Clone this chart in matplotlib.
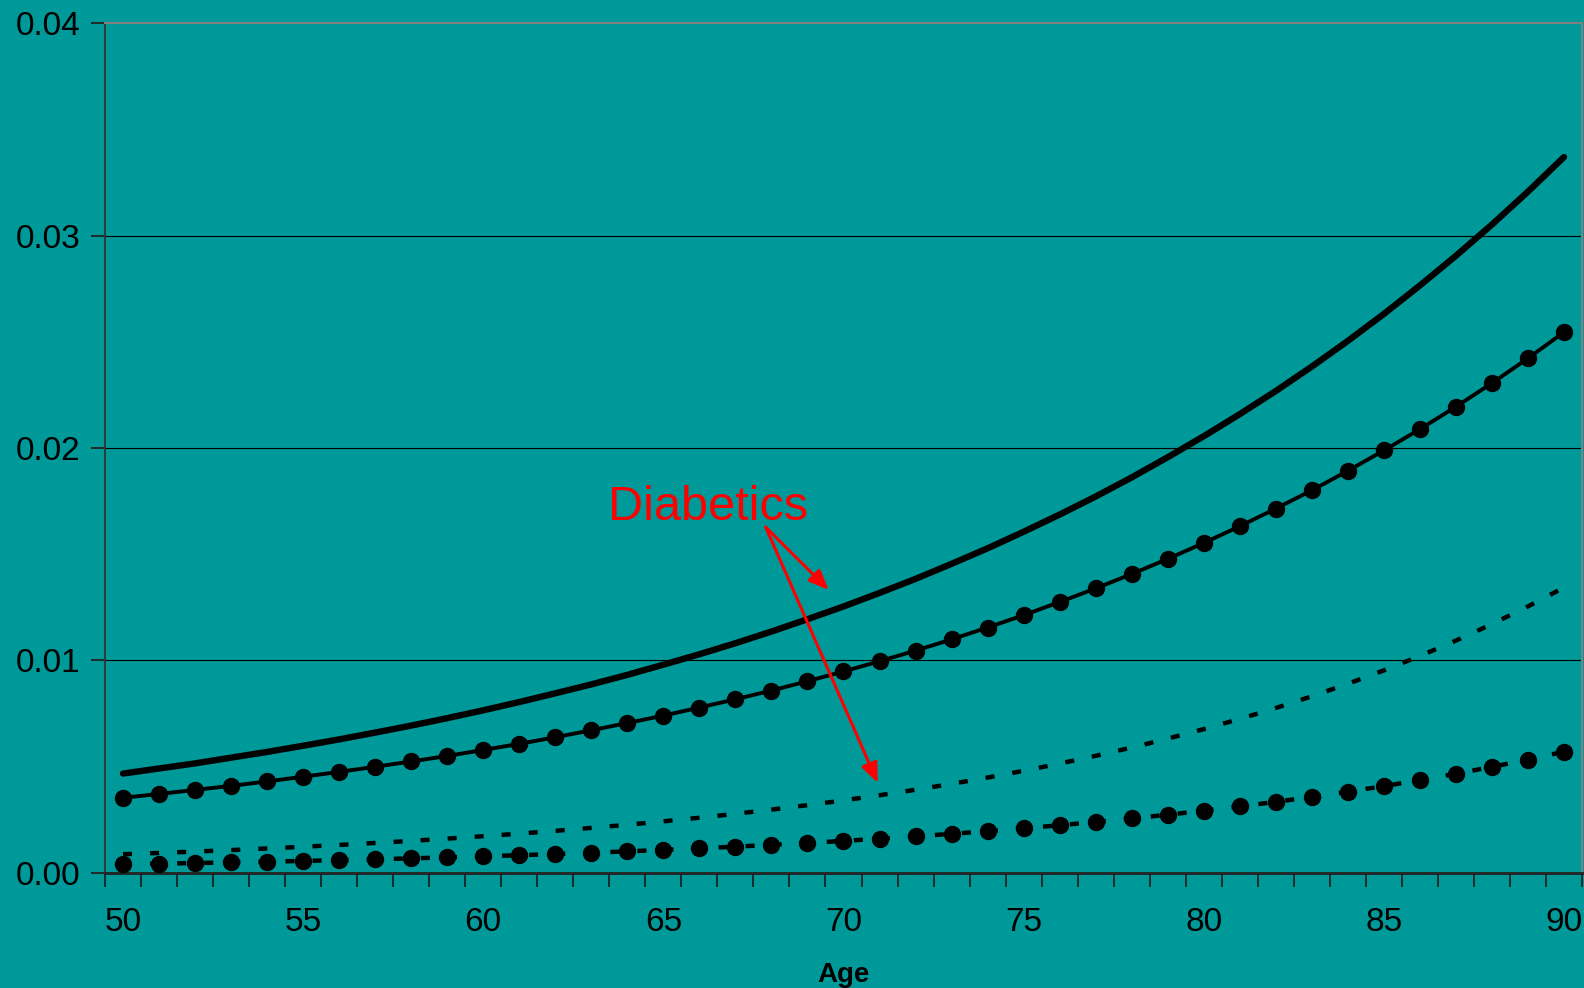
import matplotlib
matplotlib.use("Agg")
import matplotlib.pyplot as plt
from matplotlib.ticker import FormatStrFormatter

# Ages 50..90 (one point per year)
ages = list(range(50, 91))

# Solid thick line, no markers
solid_plain = [0.00466, 0.00490, 0.00514, 0.00541, 0.00568, 0.00597, 0.00627, 0.00659, 0.00692, 0.00727,
               0.00764, 0.00803, 0.00844, 0.00886, 0.00931, 0.00979, 0.01028, 0.01080, 0.01135, 0.01193,
               0.01253, 0.01317, 0.01383, 0.01454, 0.01527, 0.01605, 0.01686, 0.01771, 0.01861, 0.01956,
               0.02055, 0.02159, 0.02268, 0.02383, 0.02504, 0.02631, 0.02765, 0.02905, 0.03052, 0.03207,
               0.03370]

# Solid line with round markers
solid_dots = [0.00352, 0.00370, 0.00389, 0.00408, 0.00429, 0.00451, 0.00474, 0.00498, 0.00523, 0.00549,
              0.00577, 0.00606, 0.00637, 0.00670, 0.00704, 0.00739, 0.00777, 0.00816, 0.00857, 0.00901,
              0.00947, 0.00995, 0.01045, 0.01098, 0.01154, 0.01212, 0.01274, 0.01338, 0.01406, 0.01477,
              0.01552, 0.01631, 0.01714, 0.01800, 0.01892, 0.01988, 0.02088, 0.02194, 0.02305, 0.02422,
              0.02545]

# Dashed line, no markers
dash_plain = [0.000860, 0.000921, 0.000987, 0.001057, 0.001132, 0.001213, 0.001299, 0.001391, 0.001490, 0.001596,
              0.001709, 0.001831, 0.001961, 0.002101, 0.002250, 0.002410, 0.002581, 0.002765, 0.002962, 0.003172,
              0.003398, 0.003639, 0.003898, 0.004175, 0.004472, 0.004790, 0.005131, 0.005496, 0.005886, 0.006305,
              0.006753, 0.007233, 0.007748, 0.008299, 0.008889, 0.009521, 0.010198, 0.010923, 0.011700, 0.012532,
              0.013423]

# Dashed line with round markers
dash_dots = [0.000390, 0.000417, 0.000446, 0.000477, 0.000510, 0.000545, 0.000583, 0.000623, 0.000667, 0.000713,
             0.000762, 0.000815, 0.000871, 0.000932, 0.000996, 0.001065, 0.001139, 0.001218, 0.001303, 0.001393,
             0.001489, 0.001593, 0.001703, 0.001821, 0.001947, 0.002082, 0.002226, 0.002381, 0.002546, 0.002722,
             0.002911, 0.003113, 0.003328, 0.003559, 0.003805, 0.004069, 0.004351, 0.004653, 0.004975, 0.005320,
             0.005689]

x_labels = [50, 55, 60, 65, 70, 75, 80, 85, 90]
y_ticks = [0.00, 0.01, 0.02, 0.03, 0.04]

bg = "#009999"
plt.rcParams['font.family'] = ['Liberation Sans', 'DejaVu Sans']
plt.rcParams['lines.scale_dashes'] = False

fig = plt.figure(figsize=(15.84, 9.88), dpi=100, facecolor=bg)
ax = fig.add_axes([105 / 1584, 1 - 872.5 / 988, (1582 - 105) / 1584, (872.5 - 23.3) / 988])
ax.set_facecolor(bg)

# gridlines
for y in y_ticks[1:-1]:
    ax.axhline(y, color="black", lw=0.8, zorder=1)

ax.plot(ages, solid_plain, color="black", lw=4.6, solid_capstyle="round", zorder=3)
ax.plot(ages, solid_dots, color="black", lw=2.8, marker="o", ms=11.5, zorder=3)
ax.plot(ages, dash_plain, color="black", lw=3.2, dashes=(6.5, 13), zorder=3)
ax.plot(ages, dash_dots, color="black", lw=3.2, dashes=(6.5, 13), marker="o", ms=11.5, zorder=3)

ax.set_xlim(49.5, 90.5)
ax.set_ylim(0, 0.04)

# category boundaries get tick marks, labels sit on the categories
ax.set_xticks([a - 0.5 for a in ages] + [90.5])
ax.set_xticklabels([])
ax.set_xticks(x_labels, minor=True)
ax.set_xticklabels([str(v) for v in x_labels], minor=True)
ax.tick_params(axis="x", which="major", length=10, width=1.3, direction="out", color="#222222")
ax.tick_params(axis="x", which="minor", length=0, pad=25, labelsize=24)

ax.set_yticks(y_ticks)
ax.yaxis.set_major_formatter(FormatStrFormatter("%.2f"))
ax.tick_params(axis="y", length=10, width=1.3, direction="out", pad=7.5, labelsize=24, color="#222222")

for side in ["top", "right"]:
    ax.spines[side].set_color("#808080")
    ax.spines[side].set_linewidth(1.5)
ax.spines["left"].set_color("#333333")
ax.spines["left"].set_linewidth(1.3)
ax.spines["bottom"].set_color("#222222")
ax.spines["bottom"].set_linewidth(2)

ax.set_xlabel("Age", fontsize=20, fontweight="bold", labelpad=17)

# annotation
ax.text(63.45, 0.0166, "Diabetics", color="red", fontsize=35, va="baseline", ha="left", zorder=5)
for end in [(69.59, 0.01331), (70.95, 0.00422)]:
    ax.annotate("", xy=end, xytext=(67.84, 0.01627),
                arrowprops=dict(arrowstyle="-|>,head_length=1.2,head_width=0.5",
                                color="red", lw=2.2, shrinkA=0, shrinkB=0), zorder=5)

plt.savefig("out.png", dpi=100, facecolor=bg)
